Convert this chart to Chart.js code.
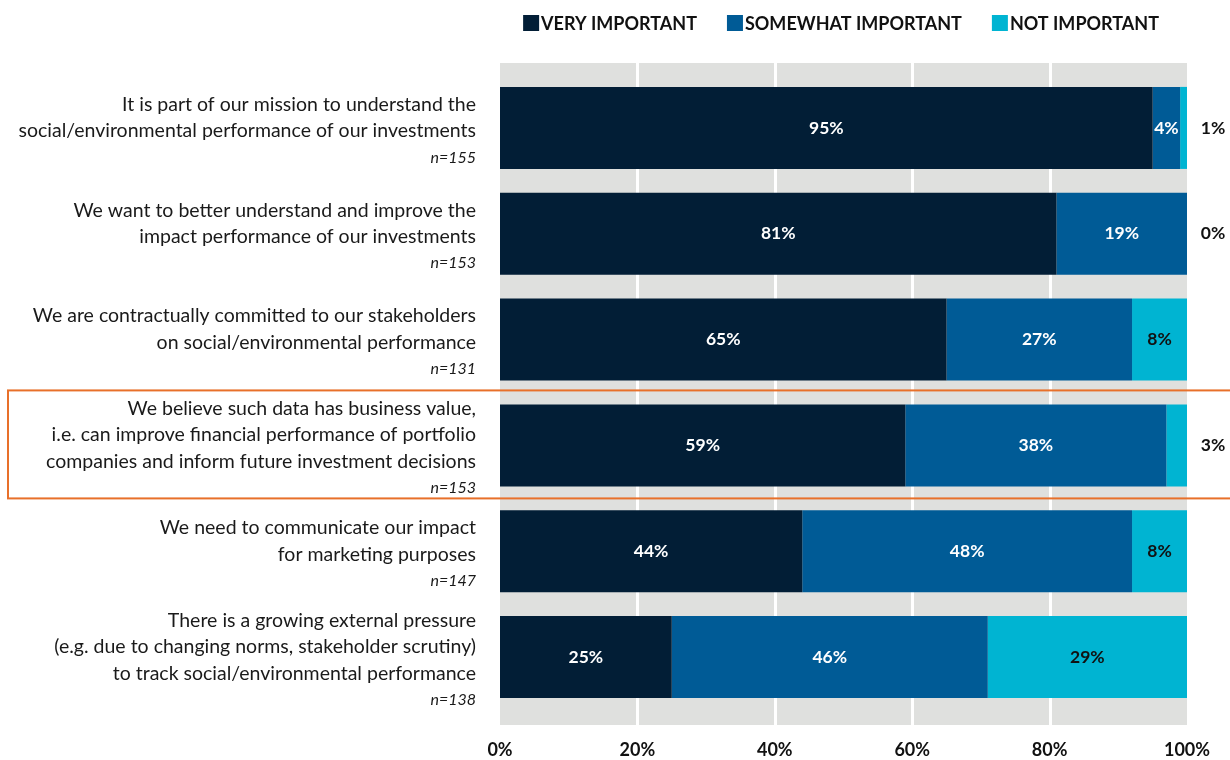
<!DOCTYPE html>
<html>
<head>
<meta charset="utf-8">
<script src="https://cdn.jsdelivr.net/npm/chart.js@4.4.1/dist/chart.umd.min.js"></script>
<style>
	html, body { margin: 0; padding: 0; background: #fff; }
	#wrap { width: 1230px; height: 760px; }
</style>
</head>
<body>
<div id="wrap"><canvas id="myChart"></canvas></div>
<script>
// 항목 (왼쪽 라벨)
const categories = [
	["It is part of our mission to understand the", "social/environmental performance of our investments"],
	["We want to better understand and improve the", "impact performance of our investments"],
	["We are contractually committed to our stakeholders", "on social/environmental performance"],
	["We believe such data has business value,", "i.e. can improve financial performance of portfolio", "companies and inform future investment decisions"],
	["We need to communicate our impact", "for marketing purposes"],
	["There is a growing external pressure", "(e.g. due to changing norms, stakeholder scrutiny)", "to track social/environmental performance"]
];
const sampleSizes = ["n=155", "n=153", "n=131", "n=153", "n=147", "n=138"];

// 값
const veryImportant = [95, 81, 65, 59, 44, 25];
const somewhatImportant = [4, 19, 27, 38, 48, 46];
const notImportant = [1, 0, 8, 3, 8, 29];

const tickValues = [0, 20, 40, 60, 80, 100];
const highlightIndex = 3; // 주황색 박스

const FONT = "Lato, 'Open Sans', sans-serif";

// 회색 배경 + 흰색 세로 격자
const backgroundPlugin = {
	id: 'bgBand',
	beforeDatasetsDraw(chart) {
		const { ctx, chartArea, scales } = chart;
		const top = chartArea.top - 12;
		const bottom = chartArea.bottom + 15;
		ctx.save();
		ctx.fillStyle = '#dfe0de';
		ctx.fillRect(chartArea.left, top, chartArea.right - chartArea.left, bottom - top);
		ctx.strokeStyle = '#ffffff';
		ctx.lineWidth = 3;
		tickValues.forEach(v => {
			if (v === 0 || v === 100) return;
			const x = Math.round(scales.x.getPixelForValue(v)) + 0.5;
			ctx.beginPath();
			ctx.moveTo(x, top);
			ctx.lineTo(x, bottom);
			ctx.stroke();
		});
		ctx.restore();
	}
};

// 범례, 왼쪽 라벨, 막대 위 값, 강조 박스
const labelPlugin = {
	id: 'labels',
	afterDatasetsDraw(chart) {
		const { ctx, chartArea, scales } = chart;
		ctx.save();

		// 범례 (오른쪽 정렬)
		ctx.font = "bold 18px " + FONT;
		ctx.textBaseline = 'middle';
		ctx.textAlign = 'left';
		const items = chart.data.datasets.map(ds => ({ text: ds.label, color: ds.backgroundColor, w: ctx.measureText(ds.label).width }));
		const box = 16, gap = 2, itemGap = 30;
		const totalW = items.reduce((s, it) => s + box + gap + it.w, 0) + itemGap * (items.length - 1);
		let lx = chartArea.right - 28 - totalW;
		const ly = 23;
		items.forEach(it => {
			ctx.fillStyle = it.color;
			ctx.fillRect(lx, ly - box / 2, box, box);
			ctx.fillStyle = '#111';
			ctx.fillText(it.text, lx + box + gap, ly + 1);
			lx += box + gap + it.w + itemGap;
		});

		// 왼쪽 라벨
		const lineH = 26.5;
		categories.forEach((lines, i) => {
			const cy = scales.y.getPixelForValue(i) + 3;
			const total = lines.length + 1;
			let y = cy - (total - 1) * lineH / 2;
			ctx.textAlign = 'right';
			ctx.textBaseline = 'middle';
			ctx.fillStyle = '#1a1a1a';
			ctx.font = "19.5px " + FONT;
			lines.forEach(line => {
				ctx.fillText(line, chartArea.left - 24, y);
				y += lineH;
			});
			ctx.font = "italic 16px " + FONT;
			ctx.fillText(sampleSizes[i], chartArea.left - 24, y);
		});

		// 막대 값
		ctx.font = "bold 17.5px " + FONT;
		ctx.textAlign = 'center';
		ctx.textBaseline = 'middle';
		chart.data.datasets.forEach((ds, di) => {
			const meta = chart.getDatasetMeta(di);
			meta.data.forEach((bar, i) => {
				const v = ds.data[i];
				const text = v + '%';
				if (v < 4) {
					if (di !== 2) return;
					ctx.fillStyle = '#111';
					ctx.fillText(text, chartArea.right + 26, bar.y);
				} else {
					ctx.fillStyle = di === 2 ? '#111' : '#ffffff';
					ctx.fillText(text, (bar.x + bar.base) / 2, bar.y);
				}
			});
		});

		// 강조 박스
		const hy = scales.y.getPixelForValue(highlightIndex);
		ctx.strokeStyle = '#e8702a';
		ctx.lineWidth = 2;
		ctx.strokeRect(8, hy - 55, 1240, 108);
		ctx.restore();
	}
};

const ctx = document.getElementById('myChart').getContext('2d');
const myChart = new Chart(ctx, {
	type: 'bar',
	data: {
		labels: categories.map(c => c.join(' ')),
		datasets: [
			{ label: 'VERY IMPORTANT', data: veryImportant, backgroundColor: '#021e36' },
			{ label: 'SOMEWHAT IMPORTANT', data: somewhatImportant, backgroundColor: '#005b96' },
			{ label: 'NOT IMPORTANT', data: notImportant, backgroundColor: '#00b4d2' }
		]
	},
	options: {
		indexAxis: 'y',
		responsive: true,
		maintainAspectRatio: false,
		animation: false,
		datasets: {
			bar: {
				barPercentage: 0.775,
				categoryPercentage: 1,
				borderWidth: 0
			}
		},
		layout: {
			padding: { left: 500, right: 43, top: 75, bottom: 0 }
		},
		plugins: {
			legend: { display: false },
			tooltip: { enabled: false }
		},
		scales: {
			x: {
				stacked: true,
				min: 0,
				max: 100,
				afterBuildTicks: axis => { axis.ticks = tickValues.map(v => ({ value: v })); },
				afterFit: axis => {
					axis.height = 50;
					axis.paddingLeft = 0;
					axis.paddingRight = 0;
				},
				grid: { display: false, drawTicks: false },
				border: { display: false },
				ticks: {
					padding: 29,
					maxRotation: 0,
					color: '#111',
					font: { family: FONT, size: 18, weight: 'bold' },
					callback: v => v + '%'
				}
			},
			y: {
				display: false,
				stacked: true
			}
		}
	},
	plugins: [backgroundPlugin, labelPlugin]
});
</script>
</body>
</html>
